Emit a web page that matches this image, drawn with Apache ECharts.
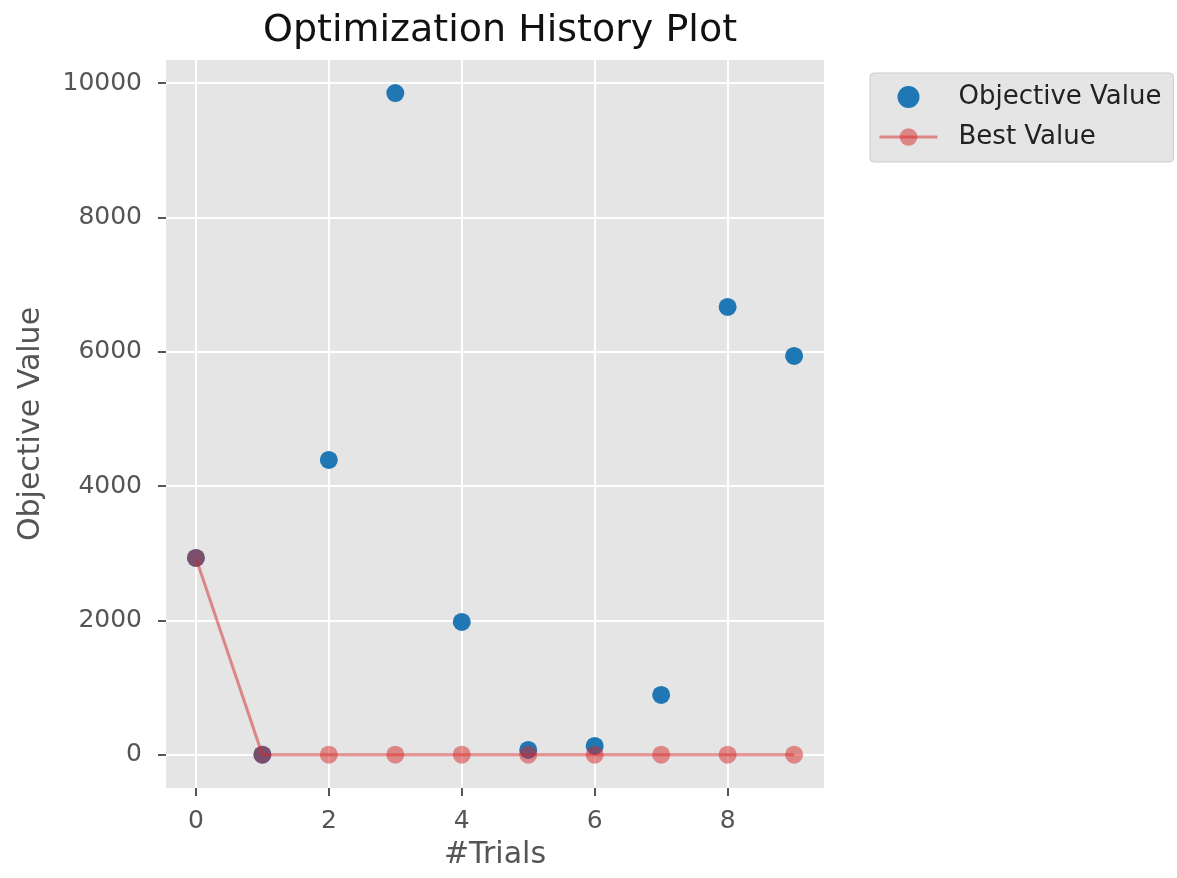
<!DOCTYPE html>
<html>
<head>
<meta charset="utf-8">
<title>Optimization History Plot</title>
<script src="https://cdn.jsdelivr.net/npm/echarts@6/dist/echarts.min.js"></script>
<style>
  html, body { margin: 0; padding: 0; background: #fff; }
  #chart { width: 1177px; height: 878px; }
</style>
</head>
<body>
<div id="chart"></div>
<script>
// trial numbers and values
var trials = [0, 1, 2, 3, 4, 5, 6, 7, 8, 9];
var objectiveValues = [2932, 3, 4390, 9850, 1979, 74, 134, 893, 6667, 5938];
var bestValues = [2932, 3, 3, 3, 3, 3, 3, 3, 3, 3];
var xTicks = [0, 2, 4, 6, 8];
var yTicks = [0, 2000, 4000, 6000, 8000, 10000];

var font = 'DejaVu Sans';
var chart = echarts.init(document.getElementById('chart'));

function pairs(xs, ys) {
    return xs.map(function (x, i) { return [x, ys[i]]; });
}

var option = {
    animation: false,
    backgroundColor: '#fff',
    title: {
        text: 'Optimization History Plot',
        left: 495,
        top: 7,
        textAlign: 'center',
        textStyle: { fontFamily: font, fontSize: 38, fontWeight: 'normal', color: '#111' }
    },
    legend: {
        orient: 'vertical',
        left: 870,
        top: 73,
        width: 305,
        padding: [11, 12, 12, 8],
        itemGap: 14,
        itemWidth: 58,
        itemHeight: 22,
        backgroundColor: '#e5e5e5',
        borderColor: '#cccccc',
        borderWidth: 1,
        borderRadius: 4,
        lineStyle: { width: 3 },
        textStyle: { fontFamily: font, fontSize: 26, color: '#222', padding: [0, 0, 0, 16] },
        data: ['Objective Value', 'Best Value']
    },
    grid: {
        left: 166,
        right: 353,
        top: 60,
        bottom: 90,
        show: true,
        backgroundColor: '#e5e5e5',
        borderWidth: 0
    },
    xAxis: {
        type: 'value',
        min: -0.45,
        max: 9.45,
        name: '#Trials',
        nameLocation: 'middle',
        nameGap: 52,
        nameTextStyle: { fontFamily: font, fontSize: 30, color: '#555' },
        axisLine: { show: false, onZero: false },
        axisTick: { show: true, inside: false, length: 8, customValues: xTicks, lineStyle: { color: '#555', width: 2 } },
        axisLabel: { customValues: xTicks, margin: 21, fontFamily: font, fontSize: 25, color: '#555' },
        splitLine: { show: true, lineStyle: { color: '#fff', width: 2 } }
    },
    yAxis: {
        type: 'value',
        min: -493,
        max: 10343,
        name: 'Objective Value',
        nameLocation: 'middle',
        nameGap: 120,
        nameTextStyle: { fontFamily: font, fontSize: 30, color: '#555' },
        axisLine: { show: false, onZero: false },
        axisTick: { show: true, inside: false, length: 8, customValues: yTicks, lineStyle: { color: '#555', width: 2 } },
        axisLabel: {
            customValues: yTicks, margin: 24, fontFamily: font, fontSize: 25, color: '#555',
            formatter: function (v) { return String(v); }
        },
        splitLine: { show: true, lineStyle: { color: '#fff', width: 2 } }
    },
    series: [
        {
            name: 'Objective Value',
            type: 'scatter',
            symbol: 'circle',
            symbolSize: 18,
            itemStyle: { color: '#1f77b4', opacity: 1 },
            data: pairs(trials, objectiveValues),
            z: 2
        },
        {
            name: 'Best Value',
            type: 'line',
            symbol: 'circle',
            symbolSize: 18,
            showAllSymbol: true,
            lineStyle: { color: '#d62728', width: 3, opacity: 0.5 },
            itemStyle: { color: '#d62728', opacity: 0.5, borderWidth: 0 },
            data: pairs(trials, bestValues),
            z: 3
        }
    ]
};

chart.setOption(option);
</script>
</body>
</html>
